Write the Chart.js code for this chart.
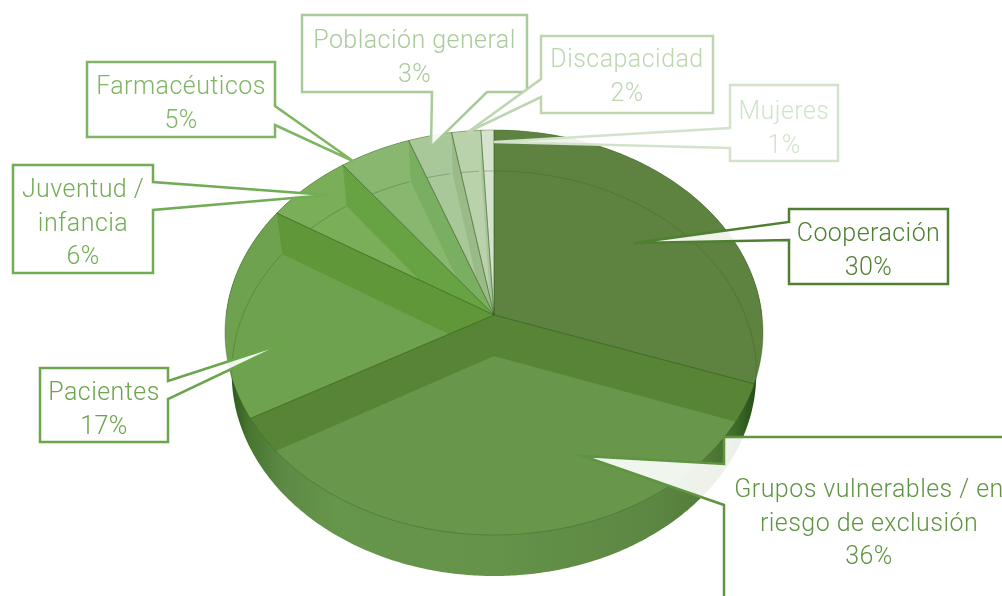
<!DOCTYPE html>
<html lang="es">
<head>
<meta charset="utf-8">
<title>Colectivos</title>
<style>
  html, body { margin: 0; padding: 0; background: #fff; overflow: hidden; }
  canvas { display: block; }
</style>
<script src="https://cdn.jsdelivr.net/npm/chart.js@4/dist/chart.umd.min.js"></script>
</head>
<body>
<canvas id="pieChart" width="1002" height="596"></canvas>
<script>
const categorias = ['Cooperación', 'Grupos vulnerables / en riesgo de exclusión', 'Pacientes', 'Juventud / infancia', 'Farmacéuticos', 'Población general', 'Discapacidad', 'Mujeres'];
const valores = [30.4, 36.4, 17.1, 5.8, 4.7, 2.85, 1.9, 0.85];

const coloresCara = ['#5e8240', '#68964a', '#6fa24e', '#7aae58', '#8ab770', '#a9c89a', '#b9d2ab', '#d5e3cd'];
const coloresPared = ['#4f7a30', '#578535', '#609738', '#68a343', '#7aae60', '#9aba88', '#a8c59a', '#c6d8bc'];
const coloresRotulo = ['#4f7f30', '#5f9440', '#6ba54c', '#72ad56', '#80b563', '#a8cb99', '#bdd6b0', '#d3e3cb'];

// Rótulos tipo globo: caja, lado de la cola y sus tres puntos (anclaje, punta, anclaje)
const globos = [
    { caja: [789, 209, 159, 75], lado: 'izq', cola: [[789, 240], [634, 243], [789, 222]], lineas: ['Cooperación', '30%'], base: 241 },
    { caja: [724, 437, 320, 200], lado: 'izq', cola: [[724, 505], [583, 456], [724, 464]], lineas: ['Grupos vulnerables / en', 'riesgo de exclusión', '36%'], base: 497, centro: 869 },
    { caja: [40, 368, 128, 74], lado: 'der', cola: [[168, 381], [288, 342], [168, 399]], lineas: ['Pacientes', '17%'], base: 400 },
    { caja: [13, 165, 140, 108], lado: 'der', cola: [[153, 182], [328, 195], [153, 210]], lineas: ['Juventud /', 'infancia', '6%'], base: 197 },
    { caja: [87, 62, 188, 75], lado: 'der', cola: [[275, 106], [353, 161], [275, 125]], lineas: ['Farmacéuticos', '5%'], base: 94 },
    { caja: [302, 15, 225, 77], lado: 'inf', cola: [[487, 92], [431, 147], [432, 92]], lineas: ['Población general', '3%'], base: 48 },
    { caja: [541, 36, 172, 77], lado: 'izq', cola: [[541, 97], [468, 132], [541, 79]], lineas: ['Discapacidad', '2%'], base: 67 },
    { caja: [730, 85, 108, 76], lado: 'izq', cola: [[730, 148], [494, 142], [730, 128]], lineas: ['Mujeres', '1%'], base: 119 }
];

const CX = 494, CY = 315, RX = 268, RY = 201, PERSP = 0.0864, ALTO = 41, ESCALA_BASE = 0.975;

function _proyectar(angulo) {
    const u = Math.cos(angulo), v = Math.sin(angulo);
    const s = 1 / (1 - PERSP * v);
    return [CX + RX * u * s, CY + RY * v * s];
}

// la base queda un poco más estrecha por la perspectiva
function _proyectarBase(angulo) {
    const [x, y] = _proyectar(angulo);
    return [CX + (x - CX) * ESCALA_BASE, y + ALTO];
}

function _trazarPorcion(ctx, ini, fin) {
    ctx.beginPath();
    ctx.moveTo(CX, CY);
    const pasos = Math.max(2, Math.ceil((fin - ini) / 0.01));
    for (let i = 0; i <= pasos; i++) {
        const [x, y] = _proyectar(ini + (fin - ini) * i / pasos);
        ctx.lineTo(x, y);
    }
    ctx.closePath();
}

function _pared(ctx, angulo, color) {
    const [x, y] = _proyectar(angulo);
    const [bx, by] = _proyectarBase(angulo);
    ctx.beginPath();
    ctx.moveTo(CX, CY);
    ctx.lineTo(x, y);
    ctx.lineTo(bx, by);
    ctx.lineTo(CX, CY + ALTO);
    ctx.closePath();
    ctx.fillStyle = color;
    ctx.fill();
}

function _dibujarLateral(ctx) {
    const grad = ctx.createLinearGradient(232, 0, 756, 0);
    grad.addColorStop(0, '#2e5a1c');
    grad.addColorStop(0.03, '#47752e');
    grad.addColorStop(0.1, '#5d8a45');
    grad.addColorStop(0.2, '#66964a');
    grad.addColorStop(0.5, '#65934a');
    grad.addColorStop(0.8, '#5c8743');
    grad.addColorStop(0.9, '#557c3a');
    grad.addColorStop(0.96, '#3f6b2a');
    grad.addColorStop(1, '#244d16');

    ctx.beginPath();
    for (let a = 0; a <= Math.PI + 0.001; a += 0.01) {
        const [x, y] = _proyectarBase(a);
        ctx.lineTo(x, y);
    }
    for (let a = Math.PI; a <= 2 * Math.PI + 0.001; a += 0.01) {
        const [x, y] = _proyectar(a);
        ctx.lineTo(x, y);
    }
    ctx.closePath();
    ctx.fillStyle = grad;
    ctx.fill();
}

const pie3D = {
    id: 'pie3D',
    beforeDatasetDraw(chart, args) {
        const ctx = chart.ctx;
        const arcos = args.meta.data;
        ctx.save();
        _dibujarLateral(ctx);

        arcos.forEach((arco, i) => {
            const ini = arco.startAngle, fin = arco.endAngle;
            ctx.save();
            _trazarPorcion(ctx, ini, fin);
            ctx.fillStyle = coloresCara[i];
            ctx.fill();
            ctx.clip();

            _pared(ctx, ini, coloresPared[i]);
            _pared(ctx, fin, coloresPared[i]);

            // base vista a través de la cara superior
            ctx.beginPath();
            for (let a = ini; a <= fin; a += 0.01) {
                const [x, y] = _proyectarBase(a);
                ctx.lineTo(x, y);
            }
            ctx.strokeStyle = 'rgba(60, 100, 35, 0.35)';
            ctx.lineWidth = 1;
            ctx.stroke();
            ctx.restore();
        });

        arcos.forEach((arco) => {
            _trazarPorcion(ctx, arco.startAngle, arco.endAngle);
            ctx.strokeStyle = 'rgba(50, 90, 30, 0.35)';
            ctx.lineWidth = 1;
            ctx.stroke();
        });
        ctx.restore();
        return false;
    },
    afterDraw(chart) {
        const ctx = chart.ctx;
        globos.forEach((g, i) => _dibujarGlobo(ctx, g, coloresRotulo[i]));
    }
};

function _dibujarGlobo(ctx, g, color) {
    const [x, y, w, h] = g.caja;
    const cola = () => g.cola.forEach(([px, py]) => ctx.lineTo(px, py));
    ctx.save();
    ctx.beginPath();
    ctx.moveTo(x, y);
    ctx.lineTo(x + w, y);
    if (g.lado === 'der') cola();
    ctx.lineTo(x + w, y + h);
    if (g.lado === 'inf') cola();
    ctx.lineTo(x, y + h);
    if (g.lado === 'izq') cola();
    ctx.closePath();
    ctx.fillStyle = 'rgba(255, 255, 255, 0.9)';
    ctx.fill();
    ctx.strokeStyle = color;
    ctx.lineWidth = 2.5;
    ctx.lineJoin = 'miter';
    ctx.stroke();

    ctx.fillStyle = color;
    ctx.font = '300 25px Roboto, sans-serif';
    ctx.letterSpacing = '0.45px';
    ctx.textAlign = 'center';
    ctx.textBaseline = 'alphabetic';
    const cx = g.centro ?? x + w / 2;
    g.lineas.forEach((t, j) => ctx.fillText(t, cx, g.base + j * 33.5));
    ctx.restore();
}

new Chart(document.getElementById('pieChart'), {
    type: 'pie',
    data: {
        labels: categorias,
        datasets: [{ data: valores, backgroundColor: coloresCara, borderWidth: 0 }]
    },
    options: {
        responsive: false,
        animation: false,
        plugins: { legend: { display: false }, tooltip: { enabled: false } }
    },
    plugins: [pie3D]
});
</script>
</body>
</html>
